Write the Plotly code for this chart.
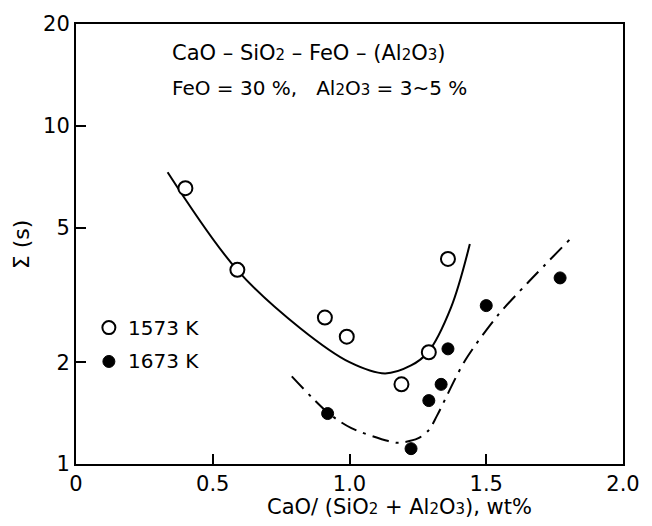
import plotly.graph_objects as go

# ---- data ----
x_1573 = [0.40, 0.59, 0.91, 0.99, 1.19, 1.29, 1.36]
y_1573 = [6.54, 3.75, 2.71, 2.38, 1.72, 2.14, 4.04]

x_1673 = [0.92, 1.225, 1.29, 1.335, 1.36, 1.50, 1.77]
y_1673 = [1.41, 1.11, 1.54, 1.72, 2.19, 2.94, 3.55]

# hand-drawn trend curves
curve_1573_x = [0.335, 0.589, 0.82, 1.0, 1.13, 1.225, 1.287, 1.371, 1.44]
curve_1573_y = [7.29, 3.75, 2.52, 2.00, 1.853, 1.956, 2.14, 2.90, 4.47]

curve_1673_x = [0.789, 0.92, 1.007, 1.142, 1.18, 1.25, 1.29, 1.32, 1.422, 1.542, 1.651, 1.804]
curve_1673_y = [1.816, 1.42, 1.276, 1.169, 1.155, 1.19, 1.26, 1.39, 2.02, 2.75, 3.43, 4.60]

x_ticks = [0, 0.5, 1.0, 1.5, 2.0]
x_ticktext = ["0", "0.5", "1.0", "1.5", "2.0"]
y_ticks = [1, 2, 5, 10, 20]
y_ticktext = ["1", "2", "5", "10", "20"]

FONT = "DejaVu Sans"
L, R, T, B = 76, 27, 22, 62
W, H = 652, 526
PW, PH = W - L - R, H - T - B

def px(xp):
    return (xp - L) / PW

def py(yp):
    return (H - B - yp) / PH

fig = go.Figure()

fig.add_trace(go.Scatter(x=curve_1573_x, y=curve_1573_y, mode="lines",
                         line=dict(color="black", width=2, shape="spline", smoothing=1.0),
                         showlegend=False, hoverinfo="skip"))
fig.add_trace(go.Scatter(x=curve_1673_x, y=curve_1673_y, mode="lines",
                         line=dict(color="black", width=2, shape="spline", smoothing=0.8,
                                   dash="17px,7px,3px,7px"),
                         showlegend=False, hoverinfo="skip"))

fig.add_trace(go.Scatter(x=x_1573, y=y_1573, mode="markers", name="1573 K",
                         marker=dict(symbol="circle", size=14, color="white",
                                     line=dict(color="black", width=2)),
                         showlegend=False))
fig.add_trace(go.Scatter(x=x_1673, y=y_1673, mode="markers", name="1673 K",
                         marker=dict(symbol="circle", size=12, color="black",
                                     line=dict(color="black", width=1)),
                         showlegend=False))

sub = lambda s: f"<span style='font-size:15px'>{s}</span>"
TS = 20

annotations = [
    dict(x=px(170), y=py(51), xref="paper", yref="paper", xanchor="left", yanchor="middle",
         text=f"CaO – SiO{sub('2')} – FeO – (Al{sub('2')}O{sub('3')})", showarrow=False,
         font=dict(family=FONT, size=21, color="black")),
    dict(x=px(170), y=py(86), xref="paper", yref="paper", xanchor="left", yanchor="middle",
         text=f"FeO = 30 %,   Al{sub('2')}O{sub('3')} = 3~5 %", showarrow=False,
         font=dict(family=FONT, size=TS, color="black")),
    dict(x=px(126), y=py(327), xref="paper", yref="paper", xanchor="left", yanchor="middle",
         text="1573 K", showarrow=False, font=dict(family=FONT, size=TS, color="black")),
    dict(x=px(126), y=py(361), xref="paper", yref="paper", xanchor="left", yanchor="middle",
         text="1673 K", showarrow=False, font=dict(family=FONT, size=TS, color="black")),
    dict(x=px(266), y=py(507), xref="paper", yref="paper", xanchor="left", yanchor="middle",
         text=f"CaO/ (SiO{sub('2')} + Al{sub('2')}O{sub('3')}), wt%", showarrow=False,
         font=dict(family=FONT, size=21, color="black")),
    dict(x=px(21), y=py(243), xref="paper", yref="paper", xanchor="center", yanchor="middle",
         text="Σ (s)", textangle=-90, showarrow=False,
         font=dict(family=FONT, size=22, color="black")),
]

shapes = [
    dict(type="circle", xref="paper", yref="paper", xsizemode="pixel", ysizemode="pixel",
         xanchor=px(109), yanchor=py(327), x0=-6.5, x1=6.5, y0=-6.5, y1=6.5,
         line=dict(color="black", width=2), fillcolor="white"),
    dict(type="circle", xref="paper", yref="paper", xsizemode="pixel", ysizemode="pixel",
         xanchor=px(109), yanchor=py(361), x0=-6, x1=6, y0=-6, y1=6,
         line=dict(color="black", width=1), fillcolor="black"),
]

fig.update_layout(
    width=W, height=H,
    margin=dict(l=L, r=R, t=T, b=B, pad=0),
    paper_bgcolor="white", plot_bgcolor="white",
    font=dict(family=FONT, size=21, color="black"),
    annotations=annotations, shapes=shapes,
    showlegend=False,
)
fig.update_xaxes(range=[0, 2], tickvals=x_ticks, ticktext=x_ticktext,
                 ticks="inside", ticklen=10, tickwidth=2, tickcolor="black",
                 showline=True, linewidth=2, linecolor="black", mirror=True,
                 showgrid=False, zeroline=False, tickfont=dict(size=21))
fig.update_yaxes(type="log", range=[0, 1.30103], tickvals=y_ticks, ticktext=y_ticktext,
                 ticks="inside", ticklen=10, tickwidth=2, tickcolor="black",
                 showline=True, linewidth=2, linecolor="black", mirror=True,
                 showgrid=False, zeroline=False, tickfont=dict(size=21))

fig.write_html("out.html")
